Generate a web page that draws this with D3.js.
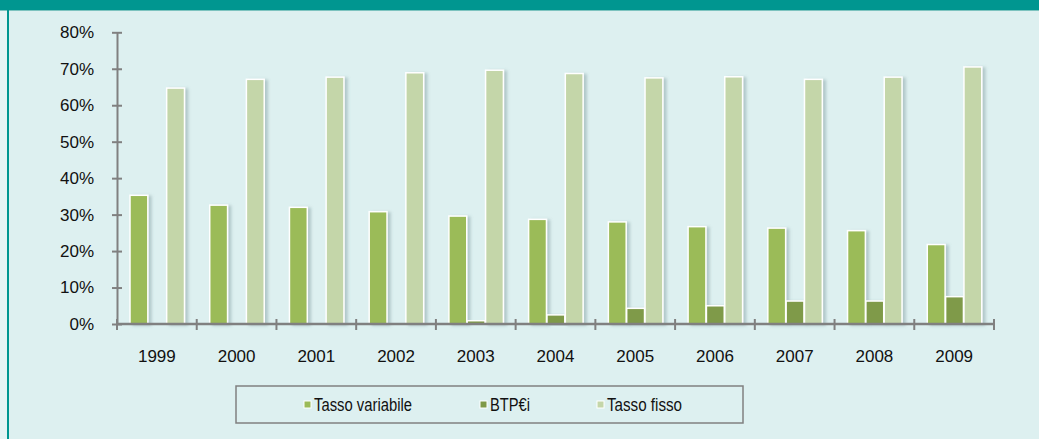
<!DOCTYPE html>
<html>
<head>
<meta charset="utf-8">
<script src="https://cdn.jsdelivr.net/npm/d3@7"></script>
<style>
  html, body { margin: 0; padding: 0; background: #ddf0f0; }
  svg { display: block; }
  text { font-family: "Liberation Sans", Arial, sans-serif; fill: #111; }
</style>
</head>
<body>
<svg id="chart" width="1039" height="439"></svg>
<script>
const years = ["1999","2000","2001","2002","2003","2004","2005","2006","2007","2008","2009"];
const seriesNames = ["Tasso variabile", "BTP€i", "Tasso fisso"];
const tassoVariabile = [35.3, 32.6, 32.0, 30.8, 29.6, 28.7, 28.0, 26.7, 26.3, 25.6, 21.8];
const btpEi          = [0,    0,    0,    0,    0.9,  2.5,  4.3,  5.0,  6.3,  6.3,  7.5];
const tassoFisso     = [64.7, 67.1, 67.7, 68.9, 69.6, 68.7, 67.5, 67.8, 67.1, 67.7, 70.5];
const yTicks = [0, 10, 20, 30, 40, 50, 60, 70, 80];

const seriesValues = [tassoVariabile, btpEi, tassoFisso];
const colors = ["#9bbb59", "#7f9a48", "#c4d6a9"];

const svg = d3.select("#chart");
const W = 1039, H = 439;

// background and frame
svg.append("rect").attr("x", 0).attr("y", 0).attr("width", W).attr("height", H).attr("fill", "#ddf0f0");
svg.append("rect").attr("x", 0).attr("y", 10).attr("width", 7).attr("height", H - 10).attr("fill", "#e6f4f4");
svg.append("rect").attr("x", 0).attr("y", 0).attr("width", W).attr("height", 10).attr("fill", "#009690");
svg.append("rect").attr("x", 0).attr("y", 10).attr("width", W).attr("height", 1).attr("fill", "#7cc3bf");
svg.append("rect").attr("x", 7).attr("y", 10).attr("width", 2).attr("height", H - 10).attr("fill", "#009690");

const defs = svg.append("defs");
const f = defs.append("filter").attr("id", "shadow").attr("x", "-30%").attr("y", "-10%").attr("width", "180%").attr("height", "130%");
f.append("feDropShadow").attr("dx", 3).attr("dy", 1).attr("stdDeviation", 1.8)
  .attr("flood-color", "#6f8a8f").attr("flood-opacity", 0.4);

const plotLeft = 117, plotRight = 994, plotTop = 32.3, plotBottom = 324;

const y = d3.scaleLinear().domain([0, 80]).range([plotBottom, plotTop]);
const x0 = d3.scaleBand().domain(years).range([plotLeft, plotRight]).padding(0);
const x1 = d3.scaleBand().domain(seriesNames).range([13, 68]).padding(0);

// bars
const groups = svg.append("g").selectAll("g").data(years).join("g")
  .attr("transform", d => `translate(${x0(d)},0)`);

seriesNames.forEach((name, si) => {
  groups.filter((d, i) => seriesValues[si][i] > 0)
    .append("rect")
    .attr("x", x1(name))
    .attr("width", x1.bandwidth() - 0.5)
    .attr("y", d => y(seriesValues[si][years.indexOf(d)]))
    .attr("height", d => plotBottom - y(seriesValues[si][years.indexOf(d)]))
    .attr("fill", colors[si])
    .attr("stroke", "#ffffff")
    .attr("stroke-width", 1.5)
    .attr("filter", "url(#shadow)");
});

// y axis
const yAxis = d3.axisLeft(y).tickValues(yTicks).tickFormat(d => d + "%").tickSizeInner(5).tickSizeOuter(0).tickPadding(18);
const gy = svg.append("g").attr("transform", `translate(${plotLeft},0)`).call(yAxis);
gy.select(".domain").attr("stroke", "#808080").attr("stroke-width", 2);
gy.selectAll(".tick line").attr("stroke", "#808080").attr("stroke-width", 2).attr("x1", 5).attr("x2", -5);
gy.selectAll(".tick text").attr("font-size", 17).attr("fill", "#111").attr("font-family", "Liberation Sans, Arial, sans-serif");

// x axis
const xAxis = d3.axisBottom(x0).tickSize(0).tickPadding(26);
const gx = svg.append("g").attr("transform", `translate(0,${plotBottom})`).call(xAxis);
gx.select(".domain").remove();
gx.append("line").attr("x1", plotLeft).attr("x2", plotRight).attr("y1", 0).attr("y2", 0)
  .attr("stroke", "#808080").attr("stroke-width", 2.5);
gx.selectAll(".tick text").attr("font-size", 17).attr("fill", "#111").attr("font-family", "Liberation Sans, Arial, sans-serif");
const boundaries = years.map(d => x0(d)).concat([plotRight]);
gx.selectAll(".bnd").data(boundaries).join("line").attr("class", "bnd")
  .attr("x1", d => d).attr("x2", d => d).attr("y1", -5).attr("y2", 6)
  .attr("stroke", "#808080").attr("stroke-width", 2);

// legend
const lg = svg.append("g");
lg.append("rect").attr("x", 236).attr("y", 386).attr("width", 507).attr("height", 37)
  .attr("fill", "none").attr("stroke", "#808080").attr("stroke-width", 1.5);
const legendX = [304, 480, 597];
const legendW = [98, 40, 75];
seriesNames.forEach((name, i) => {
  lg.append("rect").attr("x", legendX[i]).attr("y", 401).attr("width", 7).attr("height", 7)
    .attr("fill", colors[i]).attr("stroke", "#fff").attr("stroke-width", 1);
  lg.append("text").attr("x", legendX[i] + 10).attr("y", 411)
    .attr("font-size", 17.5)
    .attr("textLength", legendW[i]).attr("lengthAdjust", "spacingAndGlyphs")
    .text(name);
});
</script>
</body>
</html>
